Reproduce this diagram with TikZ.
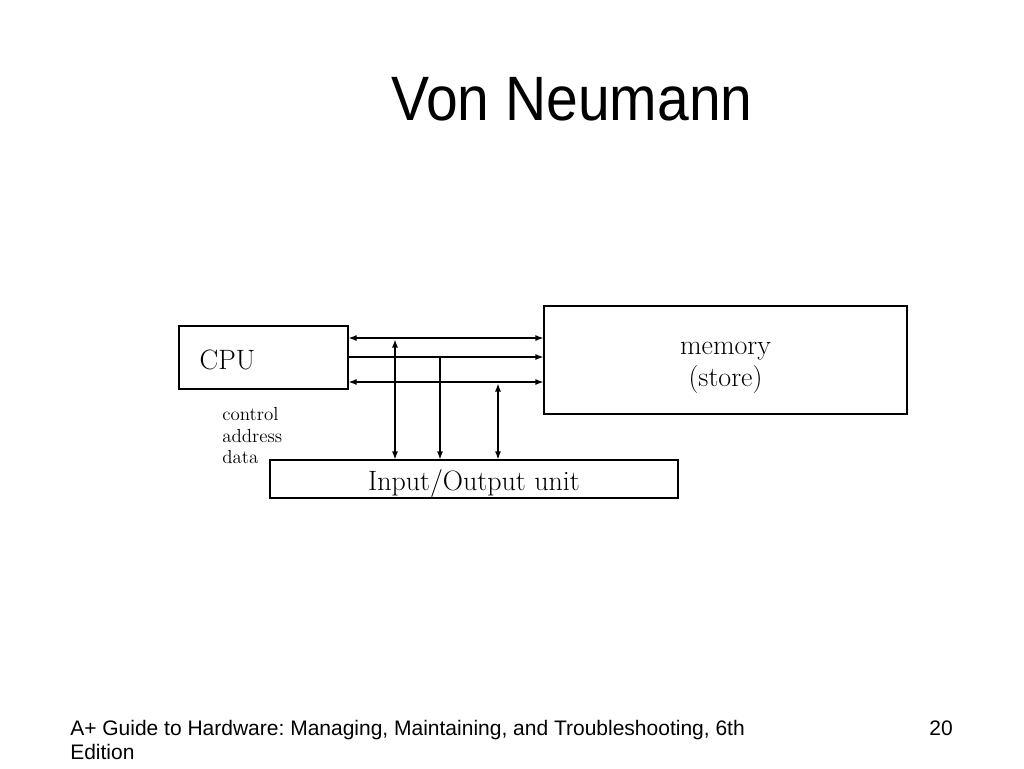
\documentclass[tikz,border=0pt]{standalone}
\usepackage{fontspec}
\usepackage{tikz}
\usetikzlibrary{arrows.meta}
\newfontfamily\slidefont{Liberation Sans}
\frenchspacing

\begin{document}
\begin{tikzpicture}[x=0.75pt,y=-0.75pt,
  >={Latex[length=6pt,width=4.5pt]},
  box/.style={draw, line width=0.9pt, inner sep=0pt},
  bus/.style={line width=0.9pt},
  boxtext/.style={font=\fontsize{21}{24}\selectfont},
  small/.style={font=\fontsize{14.2}{16}\selectfont, inner sep=0pt, anchor=base west},
  slide/.style={font=\slidefont\fontsize{15.75}{19}\selectfont, inner sep=0pt}]
\useasboundingbox (0,0) rectangle (1024,768);
% title
\node[font=\slidefont\fontsize{42.75}{50}\selectfont, inner sep=0pt, anchor=base west] (title) at (391,120) {\scalebox{1}[1.1]{Von Neumann}};
% units
\node[box, minimum width=126.75pt, minimum height=47.25pt,
  label={[boxtext, inner sep=0pt, anchor=west, xshift=15.75pt, yshift=-1.5pt]west:CPU}] (cpu) at (263.5,357.5) {};
\node[box, minimum width=272.25pt, minimum height=81pt,
  label={[boxtext, align=center, yshift=-6pt]center:memory\\(store)}] (mem) at (725.5,360) {};
\node[box, minimum width=306pt, minimum height=28.5pt,
  label={[boxtext, yshift=-3.5pt]center:Input/Output unit}] (io) at (474,479) {};
% buses
\coordinate (ctl) at (0,338);
\coordinate (adr) at (0,357);
\coordinate (dat) at (0,382);
\draw[bus,<->] (cpu.east |- ctl) -- (mem.west |- ctl);
\draw[bus,->] (cpu.east |- adr) -- (mem.west |- adr);
\draw[bus,<->] (cpu.east |- dat) -- (mem.west |- dat);
\coordinate (v1) at (395,339.5);
\coordinate (v2) at (440,357);
\coordinate (v3) at (498,383.5);
\draw[bus,<->] (v1) -- (v1 |- io.north);
\draw[bus,->] (v2) -- (v2 |- io.north);
\draw[bus,<->] (v3) -- (v3 |- io.north);
\node[small] (lctl) at (222,420) {control};
\node[small] (ladr) at (222,442) {address};
\node[small] (ldat) at (222,463.5) {data};
% footer
\node[slide, anchor=base west] (foot1) at (70,735) {A+ Guide to Hardware: Managing, Maintaining, and Troubleshooting, 6th};
\node[slide, anchor=base west] (foot2) at (70,759.5) {Edition};
\node[slide, anchor=base east] (page) at (953,735) {20};
\end{tikzpicture}
\end{document}
